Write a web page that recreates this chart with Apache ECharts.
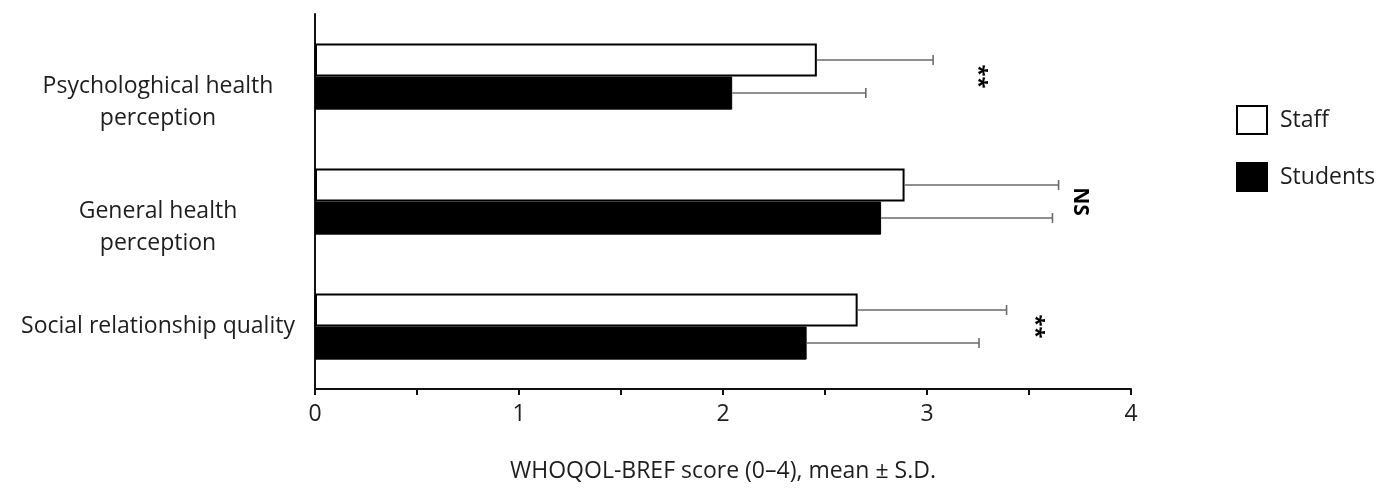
<!DOCTYPE html>
<html>
<head>
<meta charset="utf-8">
<script src="https://cdn.jsdelivr.net/npm/echarts@6/dist/echarts.min.js"></script>
<style>html,body{margin:0;padding:0;background:#fff}#c{width:1385px;height:488px}</style>
</head>
<body>
<div id="c"></div>
<script>
var categories = ['Psychologhical health\nperception', 'General health\nperception', 'Social relationship quality'];
var staffMean = [2.46, 2.89, 2.66];
var staffSD = [0.57, 0.755, 0.73];
var studentMean = [2.045, 2.775, 2.41];
var studentSD = [0.655, 0.84, 0.845];
var xTicks = [0, 0.5, 1, 1.5, 2, 2.5, 3, 3.5, 4];
var annotations = [[3.25, 0, '**'], [3.75, 1, 'NS'], [3.53, 2, '**']];
var seriesNames = ['Staff', 'Students'];
var axisTitle = 'WHOQOL-BREF score (0\u20134), mean \u00b1 S.D.';

var FONT = 'Open Sans';
var TXT = '#1e1e1e';
var FS = 23;
var CAT_GAP = 0.47;

function errorSeries(means, sds, side) {
  return {
    type: 'custom',
    silent: true,
    z: 5,
    data: means.map(function (m, i) { return [m, i, m + sds[i]]; }),
    encode: { x: [0, 2], y: 1 },
    renderItem: function (params, api) {
      var band = api.size([0, 1])[1];
      var bw = band * (1 - CAT_GAP) / 2;
      var c0 = api.coord([api.value(0), api.value(1)]);
      var c1 = api.coord([api.value(2), api.value(1)]);
      var y = c0[1] + side * bw / 2;
      var st = { stroke: '#6b6b6b', lineWidth: 1.6 };
      return {
        type: 'group',
        children: [
          { type: 'line', shape: { x1: c0[0], y1: y, x2: c1[0], y2: y }, style: st },
          { type: 'line', shape: { x1: c1[0], y1: y - 5, x2: c1[0], y2: y + 5 }, style: st }
        ]
      };
    }
  };
}

var chart = echarts.init(document.getElementById('c'), null, { renderer: 'canvas' });
chart.setOption({
  animation: false,
  backgroundColor: '#fff',
  textStyle: { fontFamily: FONT },
  grid: { left: 315, right: 254, top: 14, bottom: 99, containLabel: false },
  legend: {
    orient: 'vertical',
    left: 1231,
    top: 100,
    itemWidth: 30,
    itemHeight: 28,
    itemGap: 27,
    icon: 'rect',
    textStyle: { fontFamily: FONT, fontSize: FS, color: TXT, padding: [0, 0, 0, 8] },
    data: seriesNames
  },
  xAxis: {
    type: 'value',
    min: 0,
    max: 4,
    interval: 0.5,
    splitLine: { show: false },
    axisLine: { show: true, lineStyle: { color: '#111', width: 2 } },
    axisTick: { show: true, length: 6, lineStyle: { color: '#111', width: 2 } },
    axisLabel: {
      fontFamily: FONT, fontSize: FS, color: TXT, margin: 14,
      formatter: function (v) { return Number.isInteger(v) ? String(v) : ''; }
    },
    name: axisTitle,
    nameLocation: 'middle',
    nameGap: 71,
    nameTextStyle: { fontFamily: FONT, fontSize: FS, color: TXT }
  },
  yAxis: {
    type: 'category',
    inverse: true,
    data: categories,
    axisLine: { show: true, lineStyle: { color: '#111', width: 2 } },
    axisTick: { show: false },
    axisLabel: {
      margin: 157,
      align: 'center',
      formatter: function (v) {
        if (v.indexOf('\n') >= 0) {
          var p = v.split('\n');
          return '{s| }\n{t|' + p[0] + '}\n{t|' + p[1] + '}';
        }
        return '{t|' + v + '}';
      },
      rich: {
        s: { lineHeight: 52, fontSize: 10 },
        t: { fontFamily: FONT, fontSize: FS, color: TXT, lineHeight: 32, align: 'center' }
      }
    }
  },
  series: [
    {
      name: 'Staff', type: 'bar', data: staffMean, barGap: '0%', barCategoryGap: (CAT_GAP * 100) + '%',
      itemStyle: { color: '#ffffff', borderColor: '#000', borderWidth: 2 }
    },
    {
      name: 'Students', type: 'bar', data: studentMean,
      itemStyle: { color: '#000000', borderColor: '#000', borderWidth: 1 }
    },
    errorSeries(staffMean, staffSD, -1),
    errorSeries(studentMean, studentSD, 1),
    {
      type: 'custom',
      silent: true,
      z: 6,
      data: annotations,
      encode: { x: 0, y: 1 },
      renderItem: function (params, api) {
        var c = api.coord([api.value(0), api.value(1)]);
        var txt = annotations[params.dataIndex][2];
        return {
          type: 'text',
          x: c[0], y: c[1],
          rotation: -Math.PI / 2,
          style: {
            text: txt,
            x: 0, y: 0,
            align: 'center',
            verticalAlign: 'middle',
            fontFamily: FONT,
            fontSize: txt === 'NS' ? 21 : 22,
            fontWeight: 'bold',
            fill: '#000'
          }
        };
      }
    }
  ]
});
</script>
</body>
</html>
